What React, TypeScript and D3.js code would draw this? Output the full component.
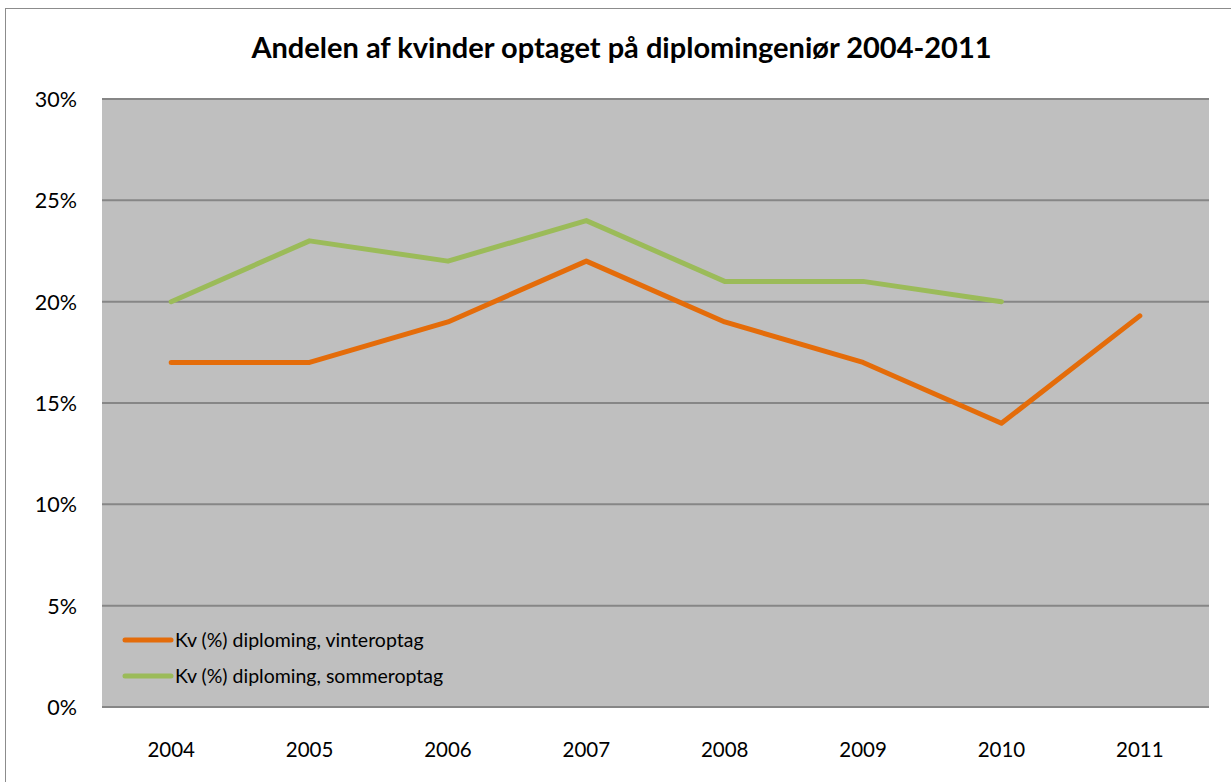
import React from 'react';
import * as d3 from 'd3';

const years = ['2004', '2005', '2006', '2007', '2008', '2009', '2010', '2011'];
const vinter = [17, 17, 19, 22, 19, 17, 14, 19.3];
const sommer: (number | null)[] = [20, 23, 22, 24, 21, 21, 20, null];
const yTicks = [0, 5, 10, 15, 20, 25, 30];

const seriesNames = ['vinteroptag', 'sommeroptag'];
const legendLabels = ['Kv (%) diploming, vinteroptag', 'Kv (%) diploming, sommeroptag'];
const colors = ['#e46c0a', '#9bbb59'];

const W = 1231;
const H = 782;
const M = { top: 99, right: 22, bottom: 75, left: 102 };
const FONT = 'Lato, "Open Sans", sans-serif';

const App = () => {
  const x = d3.scaleBand().domain(years).range([M.left, W - M.right]);
  const y = d3.scaleLinear().domain([0, 30]).range([H - M.bottom, M.top]);

  const line = d3
    .line<number | null>()
    .defined((d) => d != null)
    .x((_, i) => (x(years[i]) as number) + x.bandwidth() / 2)
    .y((d) => y(d as number));

  const series = [vinter, sommer];

  return (
    <svg
      width={W}
      height={H}
      style={{ position: 'absolute', left: 0, top: 0, background: '#fff' }}
      fontFamily={FONT}
    >
      {/* chart frame */}
      <rect x={5.5} y={8.5} width={W} height={H} fill="#fff" stroke="#8c8c8c" strokeWidth={1} />

      <text x={621.5} y={58} textAnchor="middle" fontSize={29} fontWeight="bold" fill="#000">
        Andelen af kvinder optaget på diplomingeniør 2004-2011
      </text>

      {/* plot area */}
      <rect
        x={M.left}
        y={M.top}
        width={W - M.left - M.right}
        height={H - M.top - M.bottom}
        fill="#bfbfbf"
      />
      {yTicks.map((t) => (
        <g key={t}>
          <line
            x1={M.left}
            x2={W - M.right}
            y1={y(t)}
            y2={y(t)}
            stroke="#868686"
            strokeWidth={2}
          />
          <text x={77} y={y(t) + 8} textAnchor="end" fontSize={21.5} fill="#000">
            {t}%
          </text>
        </g>
      ))}

      {years.map((yr) => (
        <text
          key={yr}
          x={(x(yr) as number) + x.bandwidth() / 2}
          y={757}
          textAnchor="middle"
          fontSize={20.5}
          fill="#000"
        >
          {yr}
        </text>
      ))}

      {series.map((s, i) => (
        <path
          key={seriesNames[i]}
          d={line(s) || ''}
          fill="none"
          stroke={colors[i]}
          strokeWidth={5}
          strokeLinejoin="round"
          strokeLinecap="round"
        />
      ))}

      {/* legend */}
      {legendLabels.map((lbl, i) => (
        <g key={lbl} transform={`translate(125, ${640 + i * 36})`}>
          <line x1={0} x2={46} y1={0} y2={0} stroke={colors[i]} strokeWidth={5} strokeLinecap="round" />
          <text x={50} y={7} fontSize={19.5} fill="#000">
            {lbl}
          </text>
        </g>
      ))}
    </svg>
  );
};

export default App;
